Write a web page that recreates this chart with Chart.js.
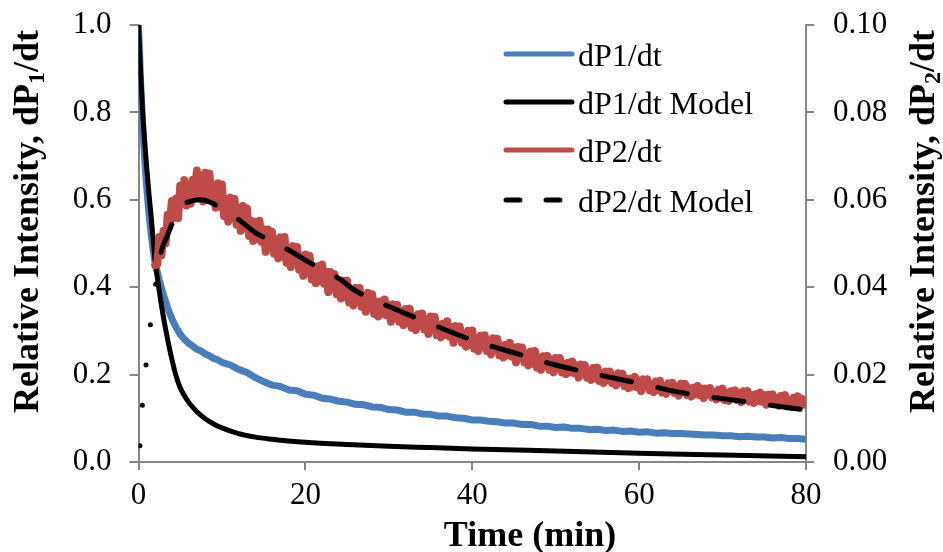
<!DOCTYPE html>
<html>
<head>
<meta charset="utf-8">
<script src="https://cdn.jsdelivr.net/npm/chart.js@4.4.1/dist/chart.umd.min.js"></script>
<style>
  body { margin: 0; background: #fff; }
</style>
</head>
<body>
<canvas id="chart" width="943" height="552"></canvas>
<script>
// dP1/dt measured (left axis)
const dP1Time = [0, 0.25, 0.5, 0.75, 1, 1.25, 1.5, 1.75, 2, 2.5, 3, 3.5, 4, 4.5, 5, 5.5, 6, 6.5, 7, 7.5, 8, 8.5, 9, 9.5, 10,
  11, 12, 13, 14, 15, 16, 17, 18, 19, 20, 21, 22, 23, 24, 25, 26, 27, 28, 29, 30,
  31, 32, 33, 34, 35, 36, 37, 38, 39, 40, 41, 42, 43, 44, 45, 46, 47, 48, 49, 50,
  51, 52, 53, 54, 55, 56, 57, 58, 59, 60, 61, 62, 63, 64, 65, 66, 67, 68, 69, 70,
  71, 72, 73, 74, 75, 76, 77, 78, 79, 80]
const dP1Values = [1.0, 0.87, 0.77, 0.69, 0.625, 0.57, 0.525, 0.485, 0.455, 0.415, 0.382, 0.352, 0.328, 0.308, 0.292, 0.281, 0.272, 0.265, 0.258, 0.254, 0.247, 0.243, 0.237, 0.234, 0.228,
  0.222, 0.212, 0.205, 0.193, 0.184, 0.176, 0.173, 0.165, 0.163, 0.155, 0.153, 0.146, 0.144, 0.139, 0.137, 0.132, 0.131, 0.126, 0.125, 0.120,
  0.119, 0.114, 0.114, 0.110, 0.109, 0.105, 0.105, 0.101, 0.100, 0.096, 0.096, 0.093, 0.092, 0.089, 0.089, 0.086, 0.086, 0.082, 0.082, 0.079,
  0.080, 0.077, 0.077, 0.074, 0.075, 0.072, 0.073, 0.070, 0.071, 0.068, 0.069, 0.066, 0.067, 0.065, 0.065, 0.064, 0.063, 0.062, 0.062, 0.060,
  0.060, 0.058, 0.059, 0.057, 0.057, 0.055, 0.056, 0.054, 0.054, 0.052]

// dP1/dt model (left axis)
const dP1ModelTime = [0, 0.25, 0.5, 0.75, 1, 1.25, 1.5, 1.75, 2, 2.5, 3, 3.5, 4, 4.5, 5, 5.5, 6, 7, 8, 9, 10, 12, 14, 16, 18, 20, 25, 30, 35, 40, 50, 60, 70, 80]
const dP1ModelValues = [1.0, 0.895, 0.80, 0.73, 0.67, 0.615, 0.565, 0.51, 0.46, 0.39, 0.33, 0.28, 0.235, 0.197, 0.17, 0.152, 0.137, 0.115, 0.099, 0.087, 0.078, 0.065, 0.057, 0.052, 0.048, 0.045, 0.040, 0.036, 0.033, 0.030, 0.025, 0.020, 0.016, 0.012]

// dP2/dt measured (right axis), one reading every 0.25 min from 2 min
const dP2Start = 2
const dP2Step = 0.25
const dP2Values = [
  0.045, 0.0452, 0.0515, 0.0473, 0.0529, 0.050, 0.0566, 0.0548, 0.0597, 0.0559,
  0.0603, 0.0558, 0.0632, 0.0594, 0.0645, 0.0587, 0.0634, 0.0591, 0.0646, 0.061,
  0.0667, 0.0613, 0.0655, 0.0596, 0.0662, 0.0623, 0.066, 0.0598, 0.0631, 0.0582,
  0.0638, 0.0584, 0.0635, 0.0563, 0.0601, 0.055, 0.0605, 0.0561, 0.0602, 0.0543,
  0.0581, 0.0529, 0.0586, 0.0542, 0.058, 0.0517, 0.0552, 0.0506, 0.0549, 0.051,
  0.0552, 0.0504, 0.0533, 0.0481, 0.0532, 0.0498, 0.0527, 0.0477, 0.0504, 0.0466,
  0.0514, 0.047, 0.0515, 0.0456, 0.0489, 0.0446, 0.0494, 0.0457, 0.0492, 0.044,
  0.0472, 0.0426, 0.0475, 0.0439, 0.0472, 0.0418, 0.0448, 0.0409, 0.0448, 0.0414,
  0.0452, 0.0408, 0.0435, 0.0389, 0.0435, 0.0405, 0.043, 0.0384, 0.0408, 0.0374,
  0.0415, 0.0378, 0.0415, 0.0365, 0.0393, 0.0358, 0.0398, 0.0368, 0.0398, 0.0355,
  0.0382, 0.0344, 0.0387, 0.0356, 0.0384, 0.0339, 0.0367, 0.0333, 0.0367, 0.0339,
  0.0372, 0.0336, 0.036, 0.0321, 0.0361, 0.0336, 0.036, 0.0321, 0.0343, 0.0313,
  0.035, 0.0317, 0.0351, 0.0307, 0.0333, 0.0302, 0.0338, 0.0312, 0.034, 0.0303,
  0.0327, 0.0293, 0.0333, 0.0304, 0.0332, 0.029, 0.0315, 0.0285, 0.0316, 0.0291,
  0.0322, 0.0287, 0.0309, 0.0273, 0.0311, 0.0287, 0.031, 0.0273, 0.0293, 0.0264,
  0.030, 0.0268, 0.0301, 0.0259, 0.0283, 0.0254, 0.0289, 0.0264, 0.029, 0.0254,
  0.0278, 0.0246, 0.0283, 0.0257, 0.0282, 0.0244, 0.0267, 0.0239, 0.0268, 0.0244,
  0.0273, 0.0241, 0.0262, 0.0228, 0.0263, 0.0241, 0.0262, 0.0228, 0.0247, 0.0221,
  0.0253, 0.0225, 0.0254, 0.0216, 0.0238, 0.0211, 0.0242, 0.0219, 0.0243, 0.0211,
  0.0234, 0.0205, 0.0238, 0.0216, 0.0238, 0.0205, 0.0225, 0.0201, 0.0227, 0.0205,
  0.023, 0.0203, 0.0221, 0.0193, 0.0223, 0.0205, 0.0222, 0.0193, 0.0209, 0.0188,
  0.0215, 0.0191, 0.0216, 0.0185, 0.0203, 0.0181, 0.0207, 0.0188, 0.0207, 0.0181,
  0.0199, 0.0175, 0.0203, 0.0183, 0.0202, 0.0174, 0.0191, 0.0169, 0.0191, 0.0173,
  0.0195, 0.0171, 0.0187, 0.0162, 0.0189, 0.0173, 0.0189, 0.0164, 0.0179, 0.016,
  0.0184, 0.0165, 0.0186, 0.0159, 0.0175, 0.0156, 0.018, 0.0163, 0.0181, 0.0158,
  0.0174, 0.0152, 0.0179, 0.0161, 0.0179, 0.0153, 0.0169, 0.015, 0.017, 0.0155,
  0.0174, 0.0153, 0.0168, 0.0146, 0.0168, 0.0155, 0.0169, 0.0148, 0.016, 0.0143,
  0.0165, 0.0147, 0.0168, 0.0142, 0.0158, 0.014, 0.0162, 0.0147, 0.0164, 0.0142,
  0.0158, 0.0137, 0.0162, 0.0145, 0.0162, 0.0138, 0.0153, 0.0135, 0.0155, 0.0139,
  0.0159, 0.0138, 0.0153, 0.0131, 0.0154, 0.014, 0.0155, 0.0133, 0.0146, 0.0129,
  0.0151, 0.0132, 0.0153, 0.0127, 0.0143, 0.0126, 0.0147, 0.0133, 0.015, 0.0129,
  0.0145, 0.0131, 0.014]

// dP2/dt model (right axis)
const dP2ModelTime = [0.18, 0.46, 0.9, 1.42, 2.06, 2.7, 3.5, 4.5, 5.5, 6.5, 7.5, 8.5, 10, 12, 14, 16, 18, 20, 22, 24, 26, 28, 30, 34, 40, 45, 50, 55, 60, 65, 70, 75, 80]
const dP2ModelValues = [0.0037, 0.013, 0.0222, 0.0314, 0.0407, 0.048, 0.052, 0.0565, 0.059, 0.0598, 0.060, 0.0595, 0.058, 0.0555, 0.0525, 0.0505, 0.0485, 0.0462, 0.044, 0.042, 0.0392, 0.0373, 0.0356, 0.0324, 0.0279, 0.025, 0.0222, 0.0200, 0.0180, 0.0159, 0.0145, 0.0132, 0.0119]

const seriesNames = ['dP1/dt', 'dP1/dt Model', 'dP2/dt', 'dP2/dt Model']
const xTitle = 'Time (min)'
const yTitle = ['Relative Intensity, dP', '1', '/dt']
const y2Title = ['Relative Intensity, dP', '2', '/dt']

const SERIF = "'Liberation Serif', 'Times New Roman', serif"
const AXIS_GREY = '#868686'
const BLUE = '#4A7EBB'
const RED = '#BE4B48'
const EARLY_DOTS = 5

const pairs = (xs, ys) => ys.map((y, i) => ({ x: xs[i], y: y }))
const dP2Time = dP2Values.map((v, i) => dP2Start + i * dP2Step)

function drawTitle(ctx, parts, baseX, centerY) {
  ctx.save()
  ctx.translate(baseX, centerY)
  ctx.rotate(-Math.PI / 2)
  ctx.fillStyle = '#000'
  ctx.textBaseline = 'alphabetic'
  ctx.textAlign = 'left'
  const big = 'bold 36px ' + SERIF
  const small = 'bold 24px ' + SERIF
  ctx.font = big
  const w0 = ctx.measureText(parts[0]).width
  const w2 = ctx.measureText(parts[2]).width
  ctx.font = small
  const w1 = ctx.measureText(parts[1]).width
  let x = -(w0 + w1 + w2) / 2
  ctx.font = big
  ctx.fillText(parts[0], x, 0)
  x += w0
  ctx.font = small
  ctx.fillText(parts[1], x, 6)
  x += w1
  ctx.font = big
  ctx.fillText(parts[2], x, 0)
  ctx.restore()
}

const titlesPlugin = {
  id: 'titles',
  afterDraw(chart) {
    const ctx = chart.ctx
    drawTitle(ctx, yTitle, 38, 221.5)
    drawTitle(ctx, y2Title, 934, 221.5)
    ctx.save()
    ctx.font = 'bold 36px ' + SERIF
    ctx.fillStyle = '#000'
    ctx.textAlign = 'center'
    ctx.textBaseline = 'alphabetic'
    ctx.fillText(xTitle, 530, 546)
    ctx.restore()
  }
}

const legendPlugin = {
  id: 'boxLegend',
  afterDatasetsDraw(chart) {
    const ctx = chart.ctx
    const rows = [54, 102, 150, 200]
    chart.data.datasets.forEach((ds, i) => {
      const y = rows[i]
      ctx.save()
      ctx.strokeStyle = ds.borderColor
      ctx.lineWidth = 5
      ctx.lineCap = 'round'
      if (ds.legendDash) ctx.setLineDash(ds.legendDash)
      ctx.beginPath()
      ctx.moveTo(506, y)
      ctx.lineTo(572, y)
      ctx.stroke()
      ctx.restore()
      ctx.save()
      ctx.font = '32px ' + SERIF
      ctx.fillStyle = '#000'
      ctx.textBaseline = 'alphabetic'
      ctx.fillText(ds.label, 578, y + 12)
      ctx.restore()
    })
  }
}

const tickFont = { family: SERIF, size: 31 }

new Chart(document.getElementById('chart'), {
  type: 'line',
  data: {
    datasets: [
      {
        label: seriesNames[0],
        data: pairs(dP1Time, dP1Values),
        yAxisID: 'y',
        borderColor: BLUE,
        borderWidth: 7,
        borderJoinStyle: 'round',
        pointRadius: 0,
        order: 4
      },
      {
        label: seriesNames[1],
        data: pairs(dP1ModelTime, dP1ModelValues),
        yAxisID: 'y',
        borderColor: '#000',
        borderWidth: 5,
        cubicInterpolationMode: 'monotone',
        pointRadius: 0,
        order: 3
      },
      {
        label: seriesNames[2],
        data: pairs(dP2Time, dP2Values),
        yAxisID: 'y2',
        borderColor: RED,
        borderWidth: 8,
        borderJoinStyle: 'round',
        borderCapStyle: 'round',
        pointRadius: 0,
        order: 2
      },
      {
        label: seriesNames[3],
        data: pairs(dP2ModelTime, dP2ModelValues),
        yAxisID: 'y2',
        borderColor: '#000',
        borderWidth: 5,
        borderDash: [30, 27],
        borderCapStyle: 'round',
        legendDash: [14, 26],
        cubicInterpolationMode: 'monotone',
        pointRadius: ctx => ctx.dataIndex < EARLY_DOTS ? 2.5 : 0,
        pointBackgroundColor: '#000',
        pointBorderWidth: 0,
        segment: {
          borderColor: ctx => ctx.p0DataIndex < EARLY_DOTS ? 'rgba(0,0,0,0)' : '#000'
        },
        order: 1
      }
    ]
  },
  options: {
    responsive: false,
    animation: false,
    events: [],
    layout: { padding: { top: 25, left: 0, right: 0, bottom: 0 } },
    plugins: {
      legend: { display: false },
      tooltip: { enabled: false }
    },
    scales: {
      x: {
        type: 'linear',
        min: 0,
        max: 80,
        ticks: { stepSize: 20, font: tickFont, color: '#000', padding: 7, maxRotation: 0 },
        grid: { drawOnChartArea: false, tickLength: 8, color: AXIS_GREY, lineWidth: 2 },
        border: { color: AXIS_GREY, width: 2 },
        afterFit: s => { s.height = 90 }
      },
      y: {
        position: 'left',
        min: 0,
        max: 1,
        ticks: { stepSize: 0.2, font: tickFont, color: '#000', padding: 18, callback: v => v.toFixed(1) },
        grid: { drawOnChartArea: false, tickLength: 9, color: AXIS_GREY, lineWidth: 2 },
        border: { color: AXIS_GREY, width: 2 },
        afterFit: s => { s.width = 138.5; s.paddingTop = 0; s.paddingBottom = 0 }
      },
      y2: {
        position: 'right',
        min: 0,
        max: 0.1,
        ticks: { stepSize: 0.02, font: tickFont, color: '#000', padding: 19, callback: v => v.toFixed(2) },
        grid: { drawOnChartArea: false, tickLength: 8, color: AXIS_GREY, lineWidth: 2 },
        border: { color: AXIS_GREY, width: 2 },
        afterFit: s => { s.width = 137; s.paddingTop = 0; s.paddingBottom = 0 }
      }
    }
  },
  plugins: [titlesPlugin, legendPlugin]
})
</script>
</body>
</html>
